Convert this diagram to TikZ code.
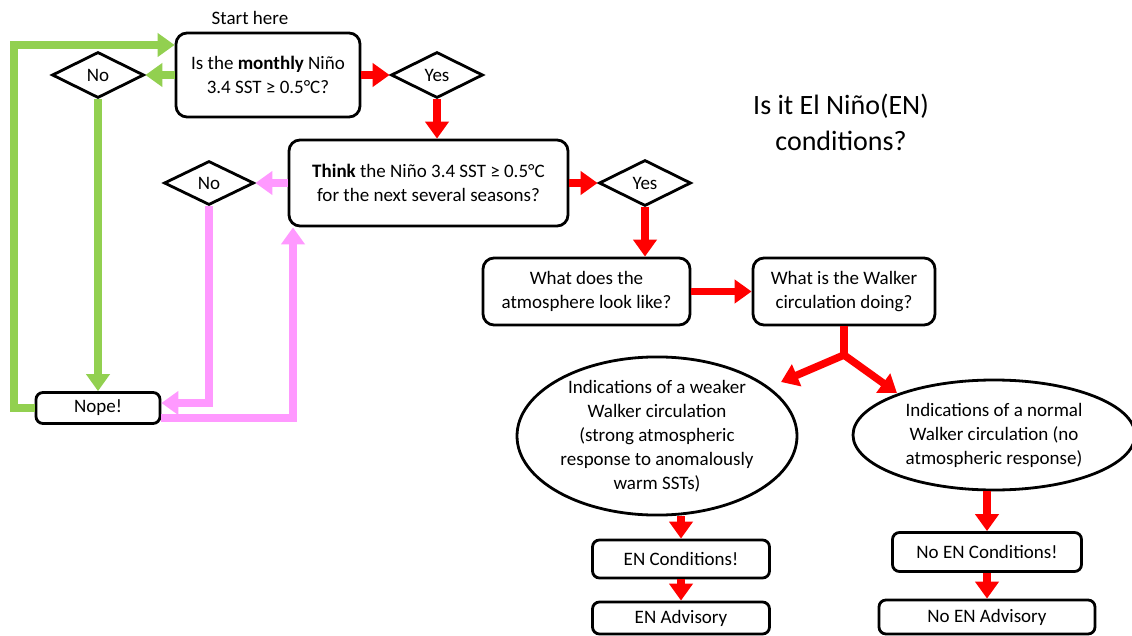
\documentclass[tikz,border=0pt]{standalone}
\usepackage{fontspec}
\setmainfont{Carlito}
\usetikzlibrary{shapes.geometric,arrows.meta}
\definecolor{gr}{RGB}{146,208,80}
\definecolor{pk}{RGB}{255,153,255}
\definecolor{rd}{RGB}{255,0,0}
\tikzset{
  txt/.style={font=\fontsize{19pt}{24pt}\selectfont, align=center},
  box/.style={txt, draw, line width=2.8pt, rounded corners=11pt, inner sep=0pt},
  dia/.style={txt, draw, line width=2.8pt, diamond, inner sep=0pt, minimum width=92pt, minimum height=46pt},
  ell/.style={txt, draw, line width=2.8pt, ellipse, inner sep=0pt},
  arr/.style={line width=7.5pt, -{Triangle[length=17pt,width=23pt]}},
  garr/.style={arr, draw=gr},
  parr/.style={arr, draw=pk},
  rarr/.style={arr, draw=rd},
  rline/.style={line width=7.5pt, draw=rd},
}
\begin{document}
\begin{tikzpicture}[x=1pt,y=-1pt]
\useasboundingbox (0,0) rectangle (1132,636);
\fill[white] (0,0) rectangle (1132,636);

\node[txt] (start) at (250,18) {Start here};
\node[box, minimum width=184pt, minimum height=84pt] (q1) at (268,75) {Is the \textbf{monthly} Niño\\3.4 SST ≥ 0.5°C?};
\node[dia] (no1) at (98,75) {No};
\node[dia] (yes1) at (437,75) {Yes};
\node[box, minimum width=279pt, minimum height=86pt] (q2) at (428.5,183) {\textbf{Think} the Niño 3.4 SST ≥ 0.5°C\\for the next several seasons?};
\node[dia, minimum width=90pt, minimum height=44pt] (no2) at (209,183) {No};
\node[dia] (yes2) at (645,183) {Yes};
\node[box, minimum width=207pt, minimum height=67pt] (q3) at (586.5,291.5) {What does the\\atmosphere look like?};
\node[box, minimum width=182pt, minimum height=67pt] (q4) at (844,291.5) {What is the Walker\\circulation doing?};
\node[ell, minimum width=280pt, minimum height=148pt] (ell1) at (657,436) {Indications of a weaker\\Walker circulation\\(strong atmospheric\\response to anomalously\\warm SSTs)};
\node[ell, minimum width=282pt, minimum height=110pt] (ell2) at (994,435) {Indications of a normal\\Walker circulation (no\\atmospheric response)};
\node[box, rounded corners=7pt, minimum width=177pt, minimum height=38pt] (enc) at (681,559) {EN Conditions!};
\node[box, rounded corners=7pt, minimum width=177pt, minimum height=32pt] (ena) at (681,618) {EN Advisory};
\node[box, rounded corners=7pt, minimum width=189pt, minimum height=39pt] (nenc) at (987,552) {No EN Conditions!};
\node[box, rounded corners=7pt, minimum width=216pt, minimum height=34pt] (nena) at (987,617) {No EN Advisory};
\node[box, rounded corners=7pt, minimum width=124pt, minimum height=31pt] (nope) at (98,408) {Nope!};
\node[font=\fontsize{28pt}{36pt}\selectfont, align=center] (title) at (841,122) {Is it El Niño(EN)\\conditions?};

\coordinate (g1) at (14,45);
\coordinate (p1) at (0,403);
\coordinate (p2) at (293,418);
\coordinate (fk) at (844,355);
\coordinate (a1) at (781,382);
\coordinate (a2) at (897,393);

% green
\draw[garr] (q1.west) -- (no1.east);
\draw[garr] (no1.south) -- (nope.north);
\draw[garr] (nope.west) -| (g1) -- (q1.west |- g1);
% pink
\draw[parr] (q2.west) -- (no2.east);
\draw[parr] (no2.south) |- (nope.east |- p1);
\draw[parr] (nope.east |- p2) -| (p2 |- q2.south);
% red
\draw[rarr] (q1.east) -- (yes1.west);
\draw[rarr] (yes1.south) -- (yes1.south |- q2.north);
\draw[rarr] (q2.east) -- (yes2.west);
\draw[rarr] (yes2.south) -- (yes2.south |- q3.north);
\draw[rarr] (q3.east) -- (q4.west);
\draw[rline] (q4.south) -- (fk);
\draw[rarr] (fk) -- (a1);
\draw[rarr] (fk) -- (a2);
\draw[rarr] (ell1.south -| enc.north) -- (enc.north);
\draw[rarr] (enc.south) -- (ena.north);
\draw[rarr] (ell2.south -| nenc.north) -- (nenc.north);
\draw[rarr] (nenc.south) -- (nena.north);
\end{tikzpicture}
\end{document}
